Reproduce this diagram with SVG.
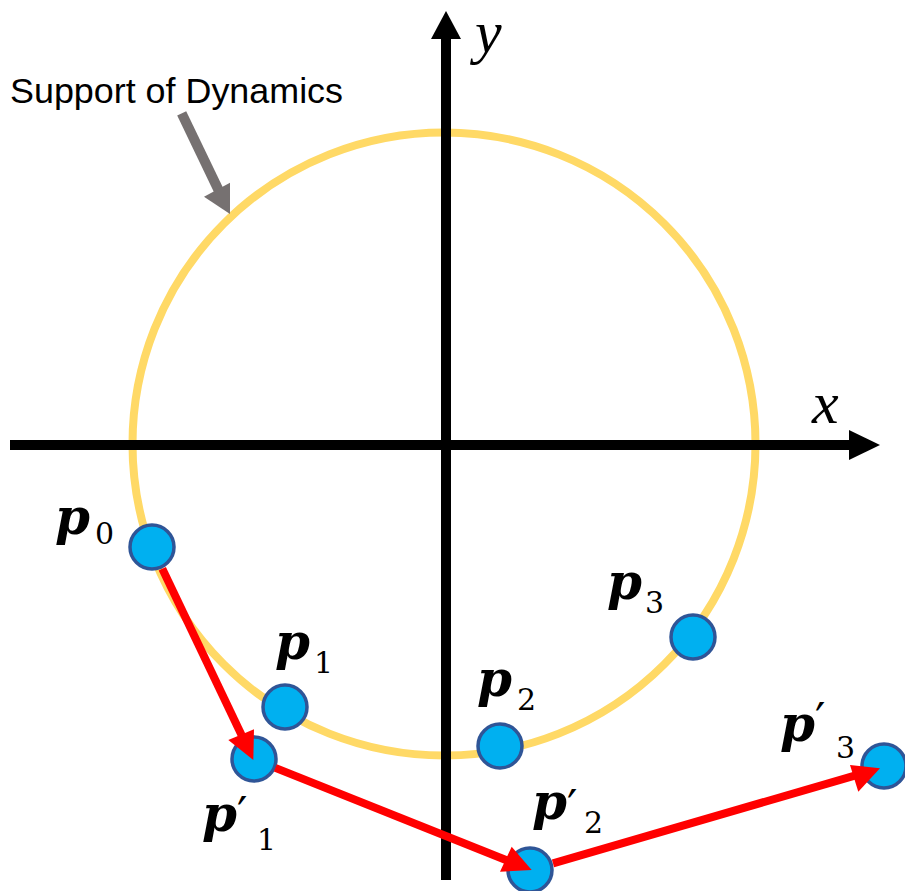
<svg xmlns="http://www.w3.org/2000/svg" width="905" height="891" viewBox="0 0 905 891">
<style>
.pv{font-family:"DejaVu Serif","Liberation Serif",serif;font-weight:bold;font-style:italic;font-size:50px;fill:#000}
.sub{font-family:"DejaVu Serif","Liberation Serif",serif;font-size:30px;fill:#000}
.prime{font-family:"DejaVu Serif","Liberation Serif",serif;font-size:46px;fill:#000}
.ax{font-family:"Liberation Serif","DejaVu Serif",serif;font-style:italic;font-size:60px;fill:#000}
.pt{fill:#00B0F0;stroke:#2F5597;stroke-width:3.5}
.red{stroke:#FF0000;stroke-width:8;fill:none}
</style>
<rect width="905" height="891" fill="#FFFFFF"/>
<g id="support">
<circle cx="444" cy="444" r="311.5" fill="none" stroke="#FFD966" stroke-width="8"/>
</g>
<g id="axes">
<line x1="10" y1="445" x2="852" y2="445" stroke="#000" stroke-width="10"/>
<polygon points="849,430 880,445 849,460" fill="#000"/>
<line x1="446" y1="880" x2="446" y2="36" stroke="#000" stroke-width="10"/>
<polygon points="431,39 446,11 461,39" fill="#000"/>
<text class="ax" x="812" y="423">x</text>
<text class="ax" x="475" y="52">y</text>
</g>
<g id="label-support">
<text x="10" y="103" font-family="Liberation Sans, Arial, sans-serif" font-size="35" textLength="333" lengthAdjust="spacingAndGlyphs" fill="#000">Support of Dynamics</text>
<line x1="181.7" y1="113.3" x2="221.4" y2="196" stroke="#767171" stroke-width="10"/>
<polygon points="204,196.7 230,182.7 230,214" fill="#767171"/>
</g>
<g id="p0">
<circle class="pt" cx="152" cy="547" r="22"/>
<text class="pv" x="55" y="534">p</text><text class="sub" x="95" y="544">0</text>
</g>
<g id="p1">
<circle class="pt" cx="285" cy="707" r="22"/>
<text class="pv" x="275" y="659">p</text><text class="sub" x="314" y="673">1</text>
</g>
<g id="p2">
<circle class="pt" cx="500" cy="746" r="22"/>
<text class="pv" x="477" y="696">p</text><text class="sub" x="517" y="710">2</text>
</g>
<g id="p3">
<circle class="pt" cx="693" cy="637" r="22"/>
<text class="pv" x="607" y="599">p</text><text class="sub" x="645" y="613">3</text>
</g>
<g id="p1prime">
<circle class="pt" cx="254" cy="759" r="22"/>
<text class="pv" x="202" y="831">p</text><text class="prime" x="237" y="830">′</text><text class="sub" x="257" y="850">1</text>
</g>
<g id="p2prime">
<circle class="pt" cx="530" cy="870" r="22"/>
<text class="pv" x="532" y="819">p</text><text class="prime" x="567" y="823">′</text><text class="sub" x="584" y="833">2</text>
</g>
<g id="p3prime">
<circle class="pt" cx="884" cy="766" r="22"/>
<text class="pv" x="780" y="741">p</text><text class="prime" x="815" y="736">′</text><text class="sub" x="836" y="758">3</text>
</g>
<g id="connectors">
<line class="red" x1="162.3" y1="568.7" x2="244.4" y2="741"/>
<polygon points="228.3,740 254,729.3 253.3,760" fill="#FF0000"/>
<line class="red" x1="275.3" y1="767.9" x2="512.4" y2="862.6"/>
<polygon points="500,871.7 511.7,846.7 531.7,870" fill="#FF0000"/>
<line class="red" x1="553" y1="863.3" x2="860.8" y2="773.9"/>
<polygon points="850,765 858.3,791.7 880,768.3" fill="#FF0000"/>
</g>
</svg>
